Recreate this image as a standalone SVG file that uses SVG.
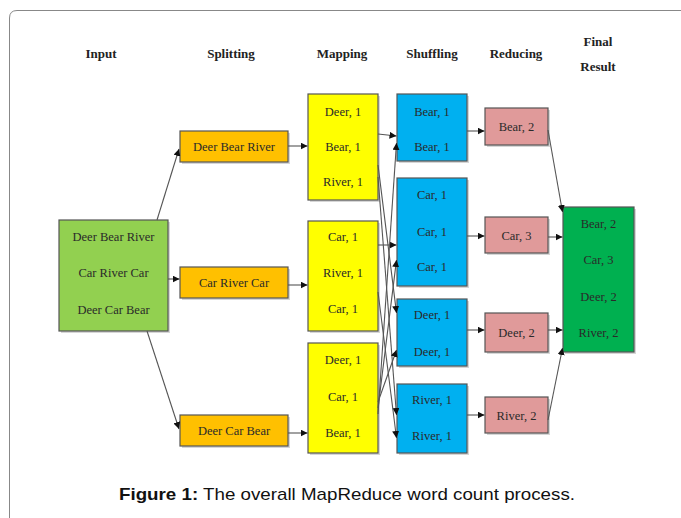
<svg xmlns="http://www.w3.org/2000/svg" width="681" height="518" viewBox="0 0 681 518">
<defs>
<marker id="ah" markerUnits="userSpaceOnUse" markerWidth="8" markerHeight="7" refX="7" refY="3.5" orient="auto">
<path d="M0,0 L7,3.5 L0,7 z" fill="#111"/>
</marker>
<style>
.hd{font-family:"Liberation Serif",serif;font-weight:bold;font-size:13px;fill:#222;text-anchor:middle}
.t{font-family:"Liberation Serif",serif;font-size:12.5px;fill:#2a2a2a;text-anchor:middle}
.box{stroke:#555;stroke-width:1.2}
.sh{fill:#bbb;opacity:0.6}
.in{fill:#92d050}.sp{fill:#ffc000}.mp{fill:#ffff00}.sf{fill:#00b0f0}.rd{fill:#e09a9a}.fn{fill:#00b050}
#connectors line{stroke:#555;stroke-width:1.1;marker-end:url(#ah)}
.cap{font-family:"Liberation Sans",Arial,sans-serif;font-size:17px;fill:#111}
</style>
</defs>
<rect width="681" height="518" fill="#fff"/>
<path d="M9.5,530 V18 Q9.5,10.5 17,10.5 H690" fill="none" stroke="#888" stroke-width="1"/>

<g id="headers">
<text class="hd" x="101" y="58">Input</text>
<text class="hd" x="231" y="58">Splitting</text>
<text class="hd" x="342" y="58">Mapping</text>
<text class="hd" x="432" y="58">Shuffling</text>
<text class="hd" x="516" y="58">Reducing</text>
<text class="hd" x="598" y="46">Final</text>
<text class="hd" x="598" y="71">Result</text>
</g>

<g id="input">
<rect class="sh" x="61" y="222" width="109" height="111"/>
<rect class="box in" x="59" y="220" width="109" height="111"/>
<text class="t" x="113.5" y="241">Deer Bear River</text>
<text class="t" x="113.5" y="277">Car River Car</text>
<text class="t" x="113.5" y="314">Deer Car Bear</text>
</g>

<g id="split1">
<rect class="sh" x="182" y="133" width="108" height="31"/>
<rect class="box sp" x="180" y="131" width="108" height="31"/>
<text class="t" x="234" y="151">Deer Bear River</text>
</g>
<g id="split2">
<rect class="sh" x="182" y="269" width="108" height="31"/>
<rect class="box sp" x="180" y="267" width="108" height="31"/>
<text class="t" x="234" y="287">Car River Car</text>
</g>
<g id="split3">
<rect class="sh" x="182" y="417" width="108" height="31"/>
<rect class="box sp" x="180" y="415" width="108" height="31"/>
<text class="t" x="234" y="435">Deer Car Bear</text>
</g>

<g id="map1">
<rect class="sh" x="310" y="96" width="70" height="106"/>
<rect class="box mp" x="308" y="94" width="70" height="106"/>
<text class="t" x="343" y="116">Deer, 1</text>
<text class="t" x="343" y="151">Bear, 1</text>
<text class="t" x="343" y="186">River, 1</text>
</g>
<g id="map2">
<rect class="sh" x="310" y="223" width="70" height="110"/>
<rect class="box mp" x="308" y="221" width="70" height="110"/>
<text class="t" x="343" y="241">Car, 1</text>
<text class="t" x="343" y="277">River, 1</text>
<text class="t" x="343" y="313">Car, 1</text>
</g>
<g id="map3">
<rect class="sh" x="310" y="345" width="70" height="110"/>
<rect class="box mp" x="308" y="343" width="70" height="110"/>
<text class="t" x="343" y="364">Deer, 1</text>
<text class="t" x="343" y="401">Car, 1</text>
<text class="t" x="343" y="437">Bear, 1</text>
</g>

<g id="shuffle1">
<rect class="sh" x="399" y="96" width="70" height="67"/>
<rect class="box sf" x="397" y="94" width="70" height="67"/>
<text class="t" x="432" y="116">Bear, 1</text>
<text class="t" x="432" y="151">Bear, 1</text>
</g>
<g id="shuffle2">
<rect class="sh" x="399" y="180" width="70" height="108"/>
<rect class="box sf" x="397" y="178" width="70" height="108"/>
<text class="t" x="432" y="199">Car, 1</text>
<text class="t" x="432" y="236">Car, 1</text>
<text class="t" x="432" y="271">Car, 1</text>
</g>
<g id="shuffle3">
<rect class="sh" x="399" y="301" width="70" height="67"/>
<rect class="box sf" x="397" y="299" width="70" height="67"/>
<text class="t" x="432" y="319">Deer, 1</text>
<text class="t" x="432" y="356">Deer, 1</text>
</g>
<g id="shuffle4">
<rect class="sh" x="399" y="386" width="70" height="69"/>
<rect class="box sf" x="397" y="384" width="70" height="69"/>
<text class="t" x="432" y="404">River, 1</text>
<text class="t" x="432" y="440">River, 1</text>
</g>

<g id="reduce1">
<rect class="sh" x="487" y="110" width="63" height="37"/>
<rect class="box rd" x="485" y="108" width="63" height="37"/>
<text class="t" x="516.5" y="131">Bear, 2</text>
</g>
<g id="reduce2">
<rect class="sh" x="487" y="219" width="63" height="36"/>
<rect class="box rd" x="485" y="217" width="63" height="36"/>
<text class="t" x="516.5" y="239.5">Car, 3</text>
</g>
<g id="reduce3">
<rect class="sh" x="487" y="315" width="63" height="39"/>
<rect class="box rd" x="485" y="313" width="63" height="39"/>
<text class="t" x="516.5" y="337">Deer, 2</text>
</g>
<g id="reduce4">
<rect class="sh" x="487" y="399" width="63" height="36"/>
<rect class="box rd" x="485" y="397" width="63" height="36"/>
<text class="t" x="516.5" y="419.5">River, 2</text>
</g>

<g id="final">
<rect class="sh" x="565" y="209" width="71" height="145"/>
<rect class="box fn" x="563" y="207" width="71" height="145"/>
<text class="t" x="598.5" y="228">Bear, 2</text>
<text class="t" x="598.5" y="264">Car, 3</text>
<text class="t" x="598.5" y="301">Deer, 2</text>
<text class="t" x="598.5" y="337">River, 2</text>
</g>

<g id="connectors">
<line x1="157" y1="220" x2="179" y2="149"/>
<line x1="168" y1="279" x2="179.5" y2="279"/>
<line x1="147" y1="331" x2="179" y2="429"/>
<line x1="288" y1="146" x2="307.5" y2="146"/>
<line x1="288" y1="285" x2="307.5" y2="285"/>
<line x1="288" y1="433" x2="307.5" y2="433"/>
<line x1="378" y1="134" x2="396.5" y2="136"/>
<line x1="378" y1="165" x2="396.5" y2="313"/>
<line x1="378" y1="177" x2="396.5" y2="415"/>
<line x1="378" y1="245" x2="396.5" y2="245"/>
<line x1="378" y1="292" x2="396.5" y2="438"/>
<line x1="378" y1="414" x2="396.5" y2="143"/>
<line x1="378" y1="408" x2="396.5" y2="260"/>
<line x1="378" y1="402" x2="396.5" y2="350"/>
<line x1="467" y1="131" x2="484.5" y2="131"/>
<line x1="467" y1="236" x2="484.5" y2="236"/>
<line x1="467" y1="330" x2="484.5" y2="330"/>
<line x1="467" y1="415" x2="484.5" y2="415"/>
<line x1="548" y1="130" x2="562.5" y2="212"/>
<line x1="548" y1="237" x2="562.5" y2="237"/>
<line x1="548" y1="330" x2="562.5" y2="330"/>
<line x1="548" y1="420" x2="562.5" y2="348"/>
</g>

<text class="cap" x="347" y="500" text-anchor="middle" textLength="456" lengthAdjust="spacingAndGlyphs"><tspan font-weight="bold">Figure 1:</tspan> The overall MapReduce word count process.</text>
</svg>
